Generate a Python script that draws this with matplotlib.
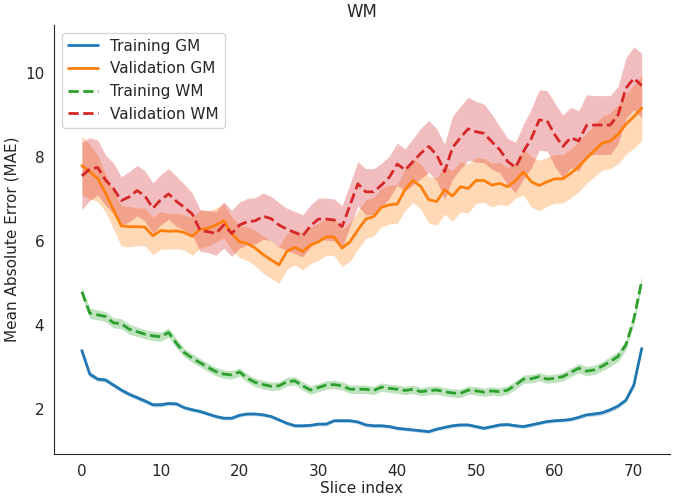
import numpy as np
import matplotlib
matplotlib.use("Agg")
import matplotlib.pyplot as plt
import seaborn as sns

sns.set_style("white")

slices = np.arange(72)

train_gm = [3.39, 2.83, 2.71, 2.69, 2.57, 2.45, 2.35, 2.27, 2.19, 2.10,
            2.10, 2.13, 2.12, 2.03, 1.98, 1.94, 1.88, 1.82, 1.78, 1.78,
            1.85, 1.88, 1.88, 1.86, 1.82, 1.74, 1.66, 1.60, 1.60, 1.61,
            1.64, 1.64, 1.72, 1.72, 1.72, 1.69, 1.62, 1.60, 1.60, 1.58,
            1.54, 1.52, 1.50, 1.48, 1.46, 1.52, 1.56, 1.60, 1.62, 1.62,
            1.58, 1.54, 1.58, 1.62, 1.63, 1.60, 1.58, 1.62, 1.66, 1.70,
            1.72, 1.73, 1.75, 1.80, 1.86, 1.88, 1.91, 1.98, 2.07, 2.21,
            2.57, 3.44]
val_gm = [7.79, 7.65, 7.49, 7.14, 6.74, 6.36, 6.34, 6.34, 6.33, 6.12,
          6.25, 6.23, 6.24, 6.20, 6.11, 6.28, 6.30, 6.38, 6.48, 6.18,
          5.98, 5.94, 5.83, 5.67, 5.55, 5.43, 5.75, 5.85, 5.75, 5.90,
          5.98, 6.10, 6.09, 5.83, 5.98, 6.26, 6.52, 6.58, 6.80, 6.86,
          6.88, 7.23, 7.44, 7.29, 6.98, 6.94, 7.22, 7.07, 7.29, 7.25,
          7.44, 7.44, 7.33, 7.37, 7.29, 7.44, 7.64, 7.41, 7.32, 7.41,
          7.48, 7.48, 7.61, 7.77, 7.97, 8.15, 8.33, 8.38, 8.54, 8.78,
          8.96, 9.16]
train_wm = [4.79, 4.28, 4.24, 4.20, 4.05, 4.03, 3.90, 3.84, 3.78, 3.74,
            3.72, 3.82, 3.56, 3.34, 3.21, 3.10, 2.99, 2.89, 2.83, 2.81,
            2.88, 2.73, 2.63, 2.58, 2.54, 2.55, 2.65, 2.67, 2.55, 2.45,
            2.51, 2.57, 2.58, 2.55, 2.47, 2.47, 2.47, 2.44, 2.52, 2.49,
            2.47, 2.44, 2.47, 2.41, 2.44, 2.45, 2.41, 2.38, 2.37, 2.45,
            2.43, 2.40, 2.43, 2.41, 2.45, 2.57, 2.71, 2.72, 2.77, 2.71,
            2.73, 2.77, 2.87, 2.97, 2.90, 2.93, 3.02, 3.13, 3.25, 3.53,
            4.14, 5.05]
val_wm = [7.55, 7.71, 7.75, 7.45, 7.25, 6.96, 7.05, 7.20, 7.07, 6.78,
          6.98, 7.12, 6.94, 6.80, 6.64, 6.25, 6.22, 6.18, 6.38, 6.18,
          6.38, 6.46, 6.48, 6.59, 6.53, 6.38, 6.28, 6.20, 6.12, 6.36,
          6.52, 6.52, 6.50, 6.34, 6.85, 7.36, 7.17, 7.17, 7.33, 7.52,
          7.83, 7.69, 7.89, 8.09, 8.25, 8.05, 7.65, 8.22, 8.46, 8.67,
          8.60, 8.56, 8.36, 8.17, 7.89, 7.75, 8.13, 8.44, 8.88, 8.86,
          8.52, 8.25, 8.46, 8.38, 8.75, 8.76, 8.76, 8.76, 9.00, 9.64,
          9.87, 9.70]

# half-width of the shaded bands
train_gm_err = [0.06, 0.06, 0.05, 0.05, 0.05, 0.05, 0.05, 0.05, 0.05, 0.05,
                0.05, 0.04, 0.04, 0.04, 0.04, 0.04, 0.04, 0.04, 0.04, 0.04,
                0.04, 0.04, 0.04, 0.04, 0.04, 0.04, 0.04, 0.04, 0.04, 0.04,
                0.04, 0.04, 0.04, 0.04, 0.04, 0.04, 0.04, 0.04, 0.04, 0.04,
                0.04, 0.04, 0.04, 0.04, 0.04, 0.04, 0.04, 0.04, 0.04, 0.04,
                0.04, 0.04, 0.04, 0.04, 0.04, 0.04, 0.04, 0.04, 0.04, 0.04,
                0.04, 0.04, 0.04, 0.04, 0.04, 0.05, 0.05, 0.05, 0.05, 0.05,
                0.06, 0.06]
val_gm_err = [0.70, 0.65, 0.55, 0.45, 0.45, 0.48, 0.48, 0.45, 0.45, 0.45,
              0.45, 0.42, 0.42, 0.42, 0.45, 0.45, 0.42, 0.40, 0.40, 0.40,
              0.38, 0.40, 0.42, 0.44, 0.44, 0.44, 0.42, 0.42, 0.44, 0.44,
              0.44, 0.44, 0.44, 0.44, 0.46, 0.46, 0.46, 0.46, 0.46, 0.46,
              0.46, 0.50, 0.52, 0.54, 0.56, 0.56, 0.58, 0.60, 0.60, 0.58,
              0.54, 0.52, 0.52, 0.50, 0.45, 0.42, 0.55, 0.60, 0.60, 0.58,
              0.58, 0.58, 0.58, 0.60, 0.60, 0.62, 0.64, 0.66, 0.70, 0.72,
              0.75, 0.78]
train_wm_err = [0.12, 0.12, 0.12, 0.12, 0.12, 0.12, 0.12, 0.11, 0.11, 0.11,
                0.11, 0.11, 0.11, 0.10, 0.10, 0.10, 0.10, 0.10, 0.10, 0.10,
                0.10, 0.10, 0.10, 0.10, 0.10, 0.10, 0.10, 0.10, 0.10, 0.10,
                0.10, 0.10, 0.10, 0.10, 0.10, 0.10, 0.10, 0.10, 0.10, 0.10,
                0.10, 0.10, 0.10, 0.10, 0.10, 0.10, 0.10, 0.10, 0.10, 0.10,
                0.10, 0.10, 0.10, 0.10, 0.10, 0.10, 0.10, 0.10, 0.10, 0.10,
                0.10, 0.10, 0.10, 0.11, 0.11, 0.11, 0.11, 0.12, 0.12, 0.12,
                0.12, 0.12]
val_wm_err = [0.80, 0.75, 0.65, 0.60, 0.60, 0.57, 0.60, 0.60, 0.60, 0.60,
              0.60, 0.60, 0.60, 0.55, 0.50, 0.50, 0.50, 0.52, 0.55, 0.55,
              0.55, 0.55, 0.55, 0.55, 0.53, 0.53, 0.50, 0.50, 0.50, 0.50,
              0.50, 0.50, 0.50, 0.50, 0.50, 0.53, 0.55, 0.55, 0.52, 0.50,
              0.50, 0.50, 0.55, 0.60, 0.62, 0.62, 0.65, 0.75, 0.75, 0.75,
              0.72, 0.70, 0.65, 0.55, 0.55, 0.60, 0.65, 0.70, 0.72, 0.72,
              0.75, 0.75, 0.72, 0.72, 0.73, 0.70, 0.70, 0.70, 0.68, 0.72,
              0.75, 0.77]

series = [
    ("Training GM", train_gm, train_gm_err, "#1f77b4", "-"),
    ("Validation GM", val_gm, val_gm_err, "#ff7f0e", "-"),
    ("Training WM", train_wm, train_wm_err, "#2ca02c", "--"),
    ("Validation WM", val_wm, val_wm_err, "#d62728", "--"),
]

fig, ax = plt.subplots(figsize=(6.82, 5.01), dpi=100)
fig.subplots_adjust(left=0.079, right=0.982, top=0.950, bottom=0.094)

for label, mean, err, color, ls in series:
    mean = np.array(mean)
    err = np.array(err)
    ax.plot(slices, mean, color=color, linestyle=ls, linewidth=2, label=label)
    ax.fill_between(slices, mean - err, mean + err, color=color, alpha=0.3, linewidth=0)

ax.set_xlim(-3.55, 74.55)
ax.set_ylim(0.93, 11.14)
ax.set_xticks(range(0, 71, 10))
ax.set_yticks([2, 4, 6, 8, 10])
ax.tick_params(labelsize=11)
ax.set_xlabel("Slice index", fontsize=11, labelpad=2)
ax.set_ylabel("Mean Absolute Error (MAE)", fontsize=11)
ax.set_title("WM", fontsize=12)
ax.legend(loc="upper left", fontsize=11, frameon=True)
sns.despine()

fig.savefig("out.png", dpi=100)
